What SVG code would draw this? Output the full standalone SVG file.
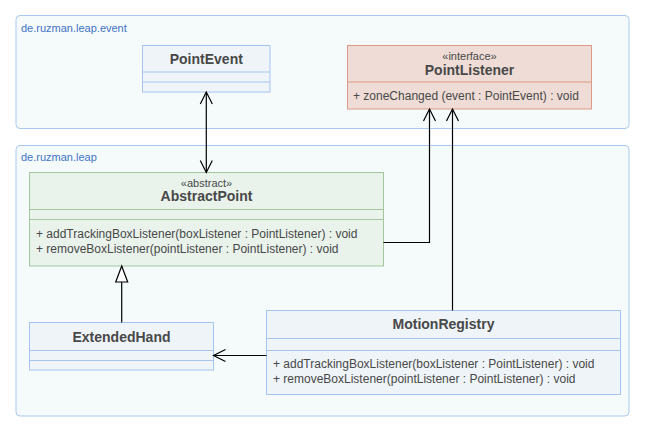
<svg xmlns="http://www.w3.org/2000/svg" width="645" height="432" viewBox="0 0 645 432">
<style>
text{font-family:"Liberation Sans",Arial,sans-serif;fill:#484848}
.pkg{fill:#f5fafb;stroke:#a9c9f0;stroke-width:1}
.plabel{font-size:11px;fill:#3f74c6}
.name{font-size:14px;font-weight:bold;text-anchor:middle}
.stereo{font-size:11px;text-anchor:middle}
.member{font-size:12px}
.blue{fill:#eff4f9;stroke:#a6c4ef;stroke-width:1}
.red{fill:#efdcd6;stroke:#dc9a86;stroke-width:1}
.green{fill:#e9f3ec;stroke:#a3c69f;stroke-width:1}
.conn{fill:none;stroke:#000;stroke-width:1.2}
</style>
<defs>
<marker id="open" markerUnits="userSpaceOnUse" markerWidth="16" markerHeight="16" viewBox="-14 -8 16 16" refX="0" refY="0" orient="auto-start-reverse">
<path d="M-12,-6 L0,0 L-12,6" fill="none" stroke="#000" stroke-width="1.2"/>
</marker>
<marker id="tri" markerUnits="userSpaceOnUse" markerWidth="20" markerHeight="16" viewBox="-18 -8 20 16" refX="0" refY="0" orient="auto">
<path d="M-16,-6 L0,0 L-16,6 Z" fill="#fff" stroke="#000" stroke-width="1.2"/>
</marker>
</defs>
<rect width="645" height="432" fill="#fff"/>
<g id="pkg-event">
<rect class="pkg" x="16" y="15.5" width="613" height="113" rx="4"/>
<text class="plabel" x="21" y="32">de.ruzman.leap.event</text>
</g>
<g id="pkg-leap">
<rect class="pkg" x="16" y="145.5" width="613" height="270.5" rx="4"/>
<text class="plabel" x="21" y="161">de.ruzman.leap</text>
</g>
<g id="PointEvent">
<rect class="blue" x="142.5" y="45.5" width="127.5" height="46.5"/>
<line class="blue" x1="142.5" y1="72" x2="270" y2="72"/>
<line class="blue" x1="142.5" y1="82" x2="270" y2="82"/>
<text class="name" x="206.3" y="63.5">PointEvent</text>
</g>
<g id="PointListener">
<rect class="red" x="347.5" y="45.5" width="244" height="63.5"/>
<line class="red" x1="347.5" y1="82" x2="591.5" y2="82"/>
<text class="stereo" x="469.5" y="60">«interface»</text>
<text class="name" x="469.5" y="74.5">PointListener</text>
<text class="member" x="353" y="99.5">+ zoneChanged (event : PointEvent) : void</text>
</g>
<g id="AbstractPoint">
<rect class="green" x="29.5" y="172.5" width="354" height="93.5"/>
<line class="green" x1="29.5" y1="209.5" x2="383.5" y2="209.5"/>
<line class="green" x1="29.5" y1="219.5" x2="383.5" y2="219.5"/>
<text class="stereo" x="206.5" y="186.5">«abstract»</text>
<text class="name" x="206.5" y="201">AbstractPoint</text>
<text class="member" x="36" y="238">+ addTrackingBoxListener(boxListener : PointListener) : void</text>
<text class="member" x="36" y="252.5">+ removeBoxListener(pointListener : PointListener) : void</text>
</g>
<g id="ExtendedHand">
<rect class="blue" x="29.5" y="322.5" width="184" height="47.5"/>
<line class="blue" x1="29.5" y1="350.5" x2="213.5" y2="350.5"/>
<line class="blue" x1="29.5" y1="360.5" x2="213.5" y2="360.5"/>
<text class="name" x="121.5" y="342">ExtendedHand</text>
</g>
<g id="MotionRegistry">
<rect class="blue" x="266.5" y="310.5" width="354" height="84"/>
<line class="blue" x1="266.5" y1="338.5" x2="620.5" y2="338.5"/>
<line class="blue" x1="266.5" y1="350.5" x2="620.5" y2="350.5"/>
<text class="name" x="443.5" y="329">MotionRegistry</text>
<text class="member" x="273" y="368">+ addTrackingBoxListener(boxListener : PointListener) : void</text>
<text class="member" x="273" y="383">+ removeBoxListener(pointListener : PointListener) : void</text>
</g>
<g id="connectors">
<line class="conn" x1="206.3" y1="92" x2="206.3" y2="172.5" marker-start="url(#open)" marker-end="url(#open)"/>
<polyline class="conn" points="383.5,242.5 429.5,242.5 429.5,109" marker-end="url(#open)"/>
<line class="conn" x1="452.5" y1="310.5" x2="452.5" y2="109" marker-end="url(#open)"/>
<line class="conn" x1="121.7" y1="322.5" x2="121.7" y2="266" marker-end="url(#tri)"/>
<line class="conn" x1="266.5" y1="355.5" x2="213.5" y2="355.5" marker-end="url(#open)"/>
</g>
</svg>
